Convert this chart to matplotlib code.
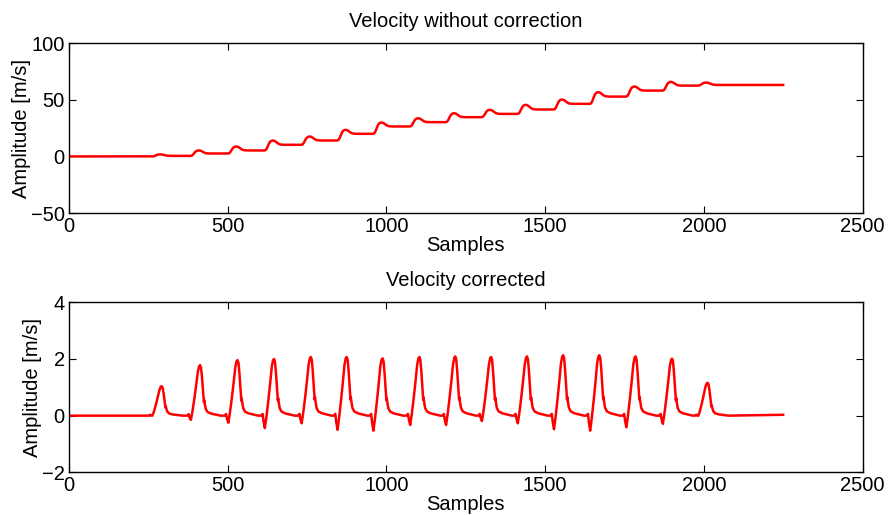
import matplotlib
matplotlib.use("Agg")
import matplotlib.pyplot as plt

plt.rcParams['font.family'] = ['Liberation Sans', 'DejaVu Sans']
plt.rcParams['font.size'] = 14.5

n_samples = 2250

# lower panel: one pulse per step
peak_pos = [292, 413, 531, 646, 762, 875, 988, 1104, 1217, 1330, 1443, 1557, 1671, 1785, 1900, 2012]
peak_amp = [1.04, 1.78, 1.96, 2.0, 2.07, 2.07, 2.02, 2.07, 2.09, 2.07, 2.09, 2.13, 2.13, 2.09, 2.01, 1.16]
dip_depth = [0.0, -0.15, -0.25, -0.44, -0.27, -0.5, -0.53, -0.33, -0.33, -0.19, -0.27, -0.48, -0.53, -0.41, -0.29, 0.0]

# shape of one pulse (offset from peak, fraction of peak, weight of the dip)
pulse_off = [-40, -36, -33, -29, -24, -18, -12, -7, -3, 0, 3, 6, 9, 11, 12, 13, 15, 18, 24, 35, 50, 65]
pulse_shape = [0.0, 0.03, 0.0, 0.0, 0.15, 0.38, 0.64, 0.87, 0.98, 1.0, 0.95, 0.76, 0.5, 0.33, 0.27, 0.31, 0.23, 0.13, 0.07, 0.04, 0.02, 0.0]
dip_shape = [0, 0, 0.45, 1, 0.78, 0.52, 0.26, 0, 0, 0, 0, 0, 0, 0, 0, 0, 0, 0, 0, 0, 0, 0]

# upper panel: level after each step and top of its bump
step_level = [0.5, 2.6, 5.3, 10.3, 14.1, 20.0, 26.5, 30.3, 34.7, 37.6, 41.5, 46.5, 52.9, 58.2, 62.6, 63.2]
bump_top = [1.8, 5.3, 8.8, 14.1, 17.6, 23.5, 30.0, 33.8, 38.2, 41.2, 45.6, 50.3, 56.8, 61.8, 65.9, 65.3]

top_off = [-30, -26, -22, -18, -14, -10, -5, 0, 5, 10, 15, 20, 26, 34]
top_step = [0, 0.05, 0.25, 0.55, 0.8, 0.95, 1, 1, 1, 1, 1, 1, 1, 1]
top_bump = [0, 0.05, 0.25, 0.55, 0.8, 0.93, 1, 0.95, 0.75, 0.45, 0.2, 0.07, 0.02, 0]

# build the lower curve
low_x = [0]
low_y = [0.0]
for p, a, d in zip(peak_pos, peak_amp, dip_depth):
    for o, s, w in zip(pulse_off, pulse_shape, dip_shape):
        low_x.append(p + o)
        low_y.append(a * s + d * w)
low_x.append(n_samples)
low_y.append(0.03)

# build the upper curve
up_x = [0]
up_y = [0.0]
prev = 0.0
for p, lvl, top in zip(peak_pos, step_level, bump_top):
    for o, s, b in zip(top_off, top_step, top_bump):
        up_x.append(p + o)
        up_y.append(prev + (lvl - prev) * s + (top - lvl) * b)
    prev = lvl
up_x.append(n_samples)
up_y.append(prev)

fig = plt.figure(figsize=(8.89, 5.15), dpi=100)
ax1 = fig.add_axes([0.0776, 0.5864, 0.8926, 0.3295])
ax2 = fig.add_axes([0.0776, 0.0829, 0.8926, 0.3301])

ax1.plot(up_x, up_y, color='red', linewidth=1.8)
ax2.plot(low_x, low_y, color='red', linewidth=1.8)

ax1.set_ylim(-50, 100)
ax1.set_yticks([-50, 0, 50, 100])
ax1.set_title("Velocity without correction", fontsize=14.5, pad=12)

ax2.set_ylim(-2, 4)
ax2.set_yticks([-2, 0, 2, 4])
ax2.set_title("Velocity corrected", fontsize=14.5, pad=12)

for ax in (ax1, ax2):
    ax.set_xlim(0, 2500)
    ax.set_xticks([0, 500, 1000, 1500, 2000, 2500])
    ax.set_xlabel("Samples", labelpad=0)
    ax.set_ylabel("Amplitude [m/s]", labelpad=0)
    ax.tick_params(direction='in', top=True, right=True, length=5, width=0.8, pad=3)
    for sp in ax.spines.values():
        sp.set_linewidth(1.0)

fig.savefig("out.png", dpi=100)
